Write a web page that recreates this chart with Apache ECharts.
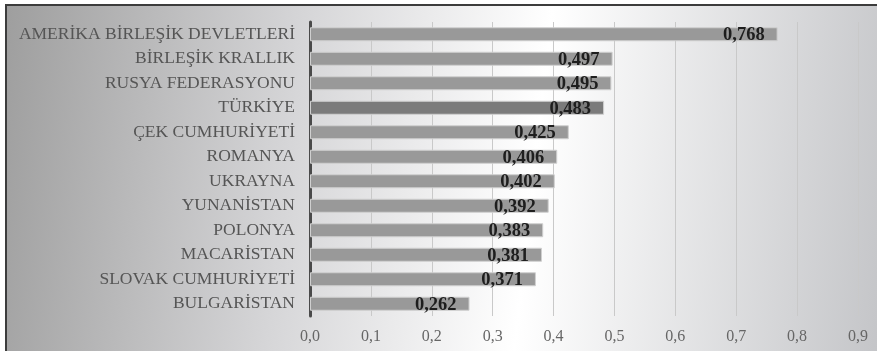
<!DOCTYPE html>
<html>
<head>
<meta charset="utf-8">
<script src="https://cdn.jsdelivr.net/npm/echarts@6/dist/echarts.min.js"></script>
<style>
  html, body { margin: 0; padding: 0; background: #fff; }
  #chart { width: 877px; height: 351px; }
</style>
</head>
<body>
<div id="chart"></div>
<script>
// Countries, listed top to bottom
const countries = [
  'AMERİKA BİRLEŞİK DEVLETLERİ',
  'BİRLEŞİK KRALLIK',
  'RUSYA FEDERASYONU',
  'TÜRKİYE',
  'ÇEK CUMHURİYETİ',
  'ROMANYA',
  'UKRAYNA',
  'YUNANİSTAN',
  'POLONYA',
  'MACARİSTAN',
  'SLOVAK CUMHURİYETİ',
  'BULGARİSTAN'
];
const values = [0.768, 0.497, 0.495, 0.483, 0.425, 0.406, 0.402, 0.392, 0.383, 0.381, 0.371, 0.262];
const highlighted = 'TÜRKİYE';
const axisTicks = [0, 0.1, 0.2, 0.3, 0.4, 0.5, 0.6, 0.7, 0.8, 0.9];

const fmt = (v, d) => v.toFixed(d).replace('.', ',');
const serif = '"Liberation Serif", "Times New Roman", serif';

// category axis runs bottom-up, so reverse to keep the first country on top
const cats = countries.slice().reverse();
const vals = values.slice().reverse();

const chart = echarts.init(document.getElementById('chart'), null, { renderer: 'canvas' });
chart.setOption({
  animation: false,
  textStyle: { fontFamily: serif },
  graphic: [{
    type: 'rect',
    z: -10,
    silent: true,
    shape: { x: 6, y: 5, width: 900, height: 400 },
    style: {
      fill: new echarts.graphic.LinearGradient(0, 0, 1, 0.25, [
        { offset: 0, color: '#9e9e9e' },
        { offset: 0.33, color: '#d6d6d8' },
        { offset: 0.6, color: '#ffffff' },
        { offset: 1, color: '#c4c5c8' }
      ]),
      stroke: '#3c3c3c',
      lineWidth: 2
    }
  }],
  grid: { left: 310, right: 19, top: 22, bottom: 35, containLabel: false },
  xAxis: {
    type: 'value',
    min: 0,
    max: 0.9,
    interval: 0.1,
    axisLine: { show: false },
    axisTick: { show: false },
    splitLine: { show: true, lineStyle: { color: '#c9c9c9', width: 1 } },
    axisLabel: {
      margin: 13,
      color: '#666',
      fontFamily: serif,
      fontSize: 16,
      formatter: v => {
        const t = axisTicks.find(a => Math.abs(a - v) < 1e-9);
        return t === undefined ? '' : fmt(t, 1);
      }
    }
  },
  yAxis: {
    type: 'category',
    data: cats,
    axisLine: { show: true, lineStyle: { color: '#4a4a4a', width: 3 } },
    axisTick: { show: false },
    axisLabel: {
      margin: 15,
      color: '#555',
      fontFamily: serif,
      fontSize: 17.5
    }
  },
  series: [{
    type: 'bar',
    barWidth: 14,
    data: vals.map((v, i) => ({
      value: v,
      itemStyle: { color: cats[i] === highlighted ? '#7b7b7b' : '#999999' }
    })),
    itemStyle: { borderColor: '#cfcfcf', borderWidth: 1 },
    label: {
      show: true,
      position: 'insideRight',
      distance: 13,
      offset: [0, 1],
      color: '#1e1e1e',
      fontFamily: serif,
      fontWeight: 'bold',
      fontSize: 18.5,
      formatter: p => fmt(p.value, 3)
    }
  }]
});
</script>
</body>
</html>
